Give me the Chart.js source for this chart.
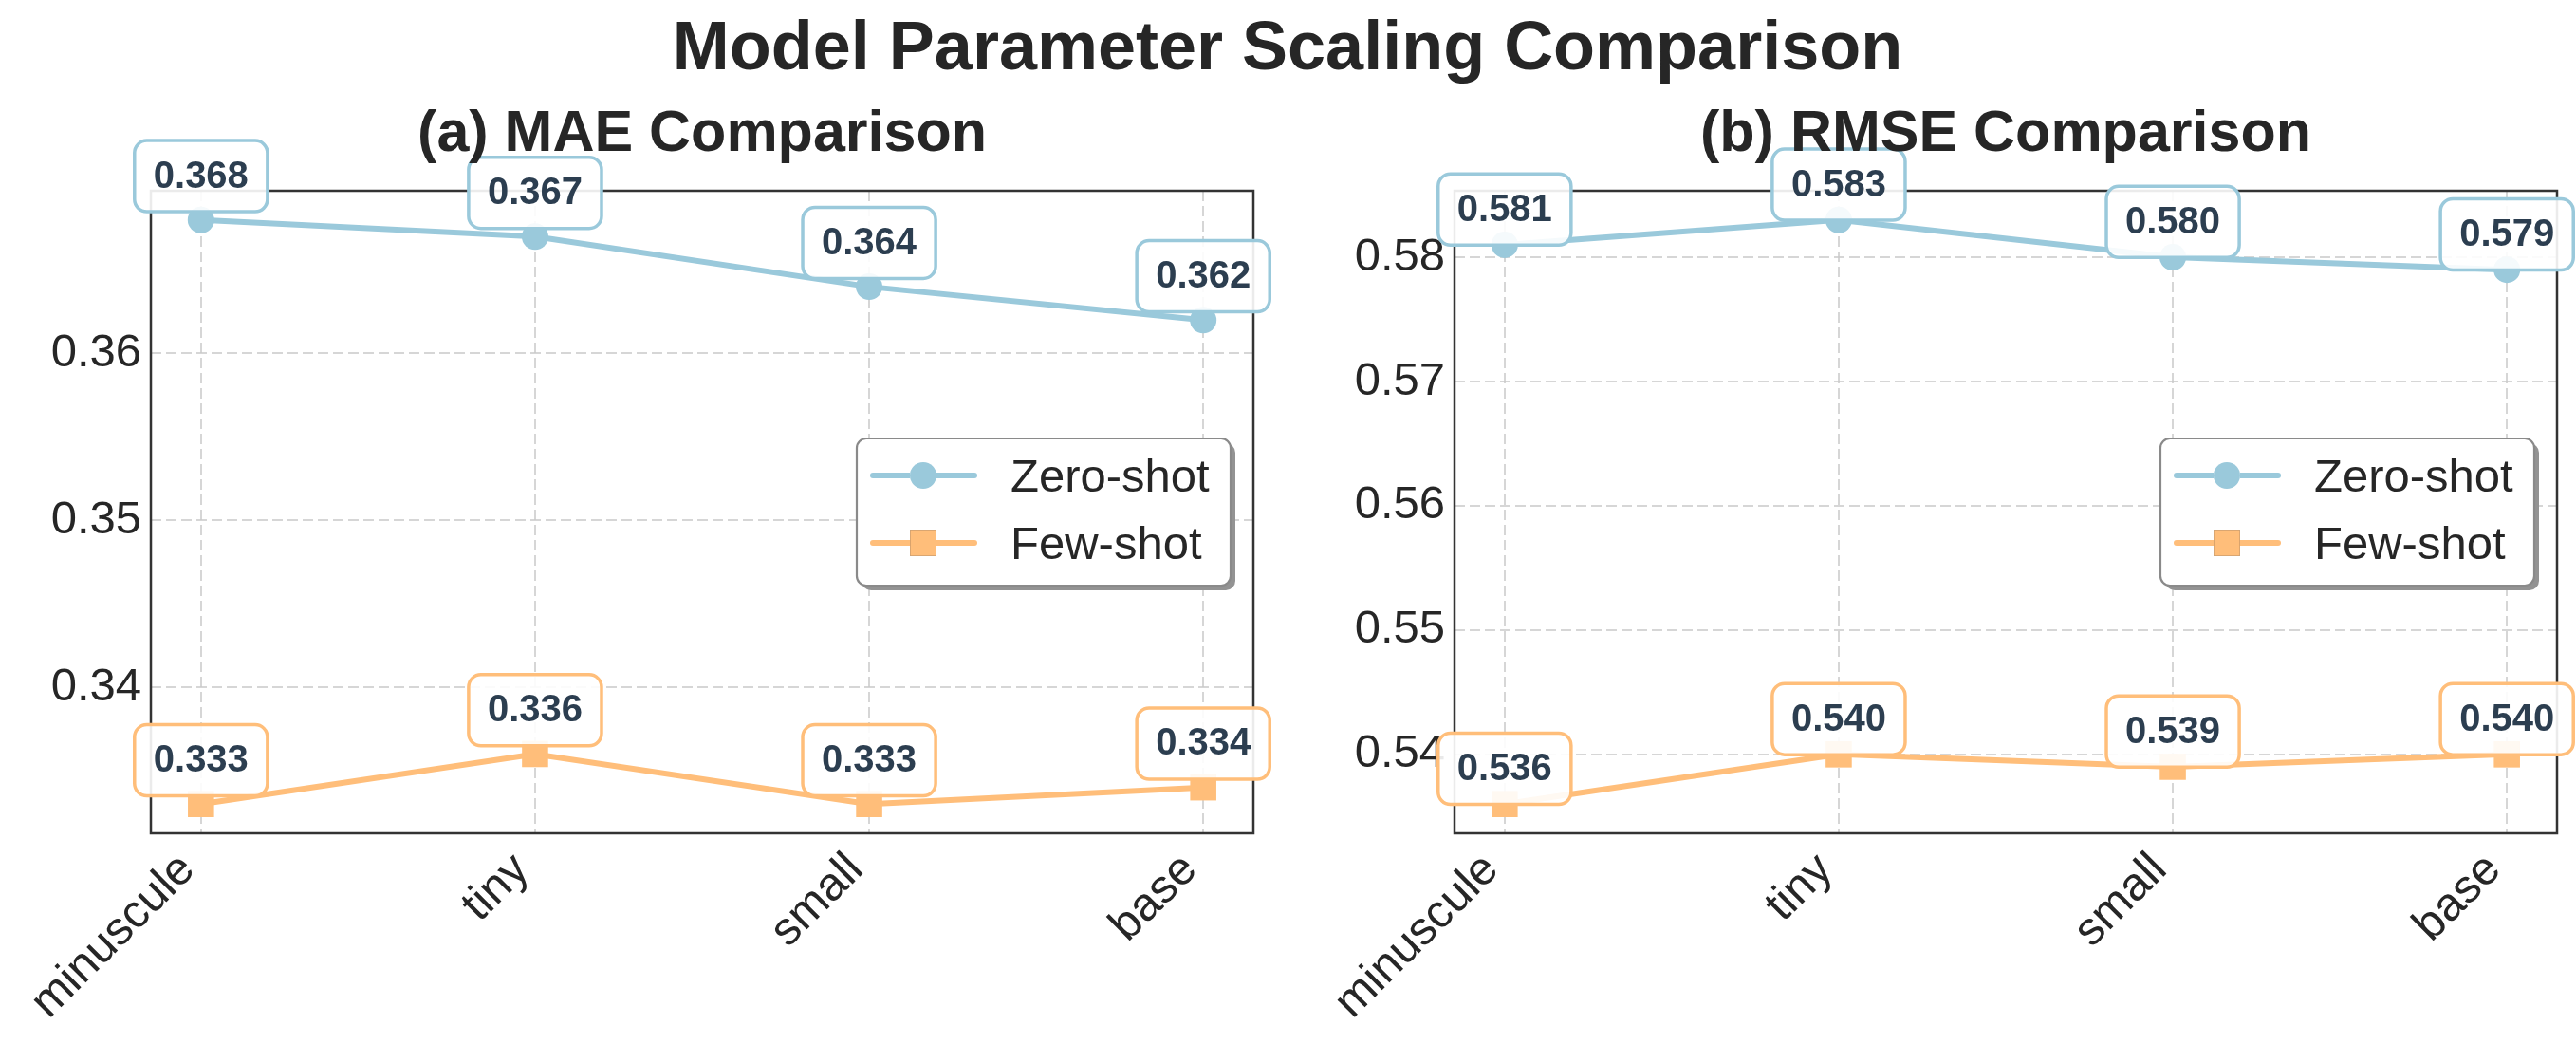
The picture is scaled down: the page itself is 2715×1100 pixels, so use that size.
<!DOCTYPE html>
<html>
<head>
<meta charset="utf-8">
<script src="https://cdn.jsdelivr.net/npm/chart.js@4.4.1/dist/chart.umd.min.js"></script>
<style>
  body { margin: 0; background: #fff; }
  #wrap { position: relative; width: 2715px; height: 1100px; overflow: hidden; font-family: "Liberation Sans", Arial, sans-serif; color: #262626; }
  canvas { position: absolute; top: 0; }
  .title { position: absolute; white-space: nowrap; font-weight: bold; line-height: 1; transform: translateX(-50%); }
</style>
</head>
<body>
<div id="wrap">
  <canvas id="maeChart" width="1357" height="1100" style="left:0"></canvas>
  <canvas id="rmseChart" width="1358" height="1100" style="left:1357px"></canvas>
  <div class="title" style="left:1357px; top:12px; font-size:72px">Model Parameter Scaling Comparison</div>
  <div class="title" style="left:740px; top:108px; font-size:61px">(a) MAE Comparison</div>
  <div class="title" style="left:2114px; top:108px; font-size:61px">(b) RMSE Comparison</div>
</div>
<script>
const categories = ["minuscule", "tiny", "small", "base"];
const seriesNames = ["Zero-shot", "Few-shot"];

const maeZeroShot = [0.368, 0.367, 0.364, 0.362];
const maeFewShot = [0.333, 0.336, 0.333, 0.334];
const maeTicks = [0.34, 0.35, 0.36];

const rmseZeroShot = [0.581, 0.583, 0.580, 0.579];
const rmseFewShot = [0.536, 0.540, 0.539, 0.540];
const rmseTicks = [0.54, 0.55, 0.56, 0.57, 0.58];

const BLUE = "#9AC9DB";
const ORANGE = "#FFBE7A";
const TEXT = "#262626";
const FONT = "'Liberation Sans', Arial, sans-serif";

// value boxes above each point
const valueLabels = {
  id: "valueLabels",
  afterDatasetsDraw(chart) {
    const ctx = chart.ctx;
    const xs = chart.scales.x, ys = chart.scales.y;
    ctx.save();
    ctx.font = "bold 40px " + FONT;
    chart.data.datasets.forEach(ds => {
      ds.data.forEach(p => {
        const txt = p.y.toFixed(3);
        const w = ctx.measureText(txt).width + 40;
        const h = 75;
        const cx = xs.getPixelForValue(p.x);
        const cy = ys.getPixelForValue(p.y + 0.002) - 11;
        ctx.beginPath();
        ctx.roundRect(cx - w / 2, cy - h / 2, w, h, 13);
        ctx.fillStyle = "rgba(255,255,255,0.9)";
        ctx.fill();
        ctx.lineWidth = 3.5;
        ctx.strokeStyle = ds.borderColor;
        ctx.stroke();
        ctx.fillStyle = "#2C3E50";
        ctx.textAlign = "center";
        ctx.textBaseline = "alphabetic";
        ctx.fillText(txt, cx, cy + 12);
      });
    });
    ctx.restore();
  }
};

// axes frame, drawn under the lines
const frame = {
  id: "frame",
  beforeDatasetsDraw(chart) {
    const {ctx, chartArea: a} = chart;
    ctx.save();
    ctx.strokeStyle = "#333333";
    ctx.lineWidth = 2.5;
    ctx.strokeRect(a.left, a.top, a.right - a.left, a.bottom - a.top);
    ctx.restore();
  }
};

// legend box at center right with shadow
const boxLegend = {
  id: "boxLegend",
  afterDraw(chart) {
    const {ctx, chartArea: a} = chart;
    const w = 394, h = 155;
    const left = a.right - 24 - w;
    const top = (a.top + a.bottom) / 2 - h / 2;
    ctx.save();
    ctx.beginPath();
    ctx.roundRect(left + 5, top + 5, w, h, 10);
    ctx.fillStyle = "#939393";
    ctx.fill();
    ctx.beginPath();
    ctx.roundRect(left, top, w, h, 10);
    ctx.fillStyle = "#ffffff";
    ctx.fill();
    ctx.lineWidth = 2.2;
    ctx.strokeStyle = "#8a8a8a";
    ctx.stroke();
    chart.data.datasets.forEach((ds, i) => {
      const y = top + 39 + i * 71;
      ctx.beginPath();
      ctx.moveTo(left + 17, y);
      ctx.lineTo(left + 124, y);
      ctx.lineWidth = ds.borderWidth;
      ctx.lineCap = "round";
      ctx.strokeStyle = ds.borderColor;
      ctx.stroke();
      Chart.helpers.drawPoint(ctx, {
        pointStyle: ds.pointStyle, radius: ds.pointRadius, rotation: 0, borderWidth: 0
      }, left + 70, y);
      ctx.fillStyle = ds.backgroundColor;
      ctx.fill();
      ctx.fillStyle = TEXT;
      ctx.font = "49px " + FONT;
      ctx.textAlign = "left";
      ctx.textBaseline = "alphabetic";
      ctx.fillText(ds.label, left + 162, top + 56 + i * 71);
    });
    ctx.restore();
  }
};

function toPoints(values) {
  return values.map((v, i) => ({x: i, y: v}));
}

function makeChart(id, zero, few, ticks, axisWidth, rightPad) {
  const all = zero.concat(few);
  const lo = Math.min(...all), hi = Math.max(...all);
  const margin = (hi - lo) * 0.05;
  const gridColor = "rgba(200,200,200,0.75)";
  return new Chart(document.getElementById(id), {
    type: "line",
    data: {
      datasets: [
        {
          label: seriesNames[0], data: toPoints(zero),
          borderColor: BLUE, backgroundColor: BLUE, borderWidth: 6,
          pointStyle: "circle", pointRadius: 14, pointBorderWidth: 0,
          pointBackgroundColor: BLUE, clip: false
        },
        {
          label: seriesNames[1], data: toPoints(few),
          borderColor: ORANGE, backgroundColor: ORANGE, borderWidth: 6,
          pointStyle: "rect", pointRadius: 19.5, pointBorderWidth: 0,
          pointBackgroundColor: ORANGE, clip: false
        }
      ]
    },
    options: {
      responsive: false,
      animation: false,
      devicePixelRatio: 1,
      layout: { padding: { top: 201, left: 0, right: rightPad, bottom: 0 } },
      plugins: { legend: { display: false }, tooltip: { enabled: false } },
      scales: {
        x: {
          type: "linear", min: -0.15, max: 3.15,
          afterBuildTicks: axis => { axis.ticks = categories.map((c, i) => ({value: i})); },
          afterFit: axis => { axis.height = 222; },
          ticks: {
            autoSkip: false, minRotation: 45, maxRotation: 45, padding: 10, labelOffset: -14,
            color: TEXT, font: { family: FONT, size: 49 },
            callback: v => categories[v]
          },
          grid: { color: gridColor, lineWidth: 2, drawTicks: false },
          border: { display: false, dash: [11, 5] }
        },
        y: {
          min: lo - margin, max: hi + margin,
          afterBuildTicks: axis => { axis.ticks = ticks.map(v => ({value: v})); },
          afterFit: axis => { axis.width = axisWidth; },
          ticks: {
            padding: 10, color: TEXT, font: { family: FONT, size: 49 },
            callback: v => v.toFixed(2)
          },
          grid: { color: gridColor, lineWidth: 2, drawTicks: false },
          border: { display: false, dash: [11, 5] }
        }
      }
    },
    plugins: [frame, valueLabels, boxLegend]
  });
}

makeChart("maeChart", maeZeroShot, maeFewShot, maeTicks, 159, 36);
makeChart("rmseChart", rmseZeroShot, rmseFewShot, rmseTicks, 176, 20);
</script>
</body>
</html>
